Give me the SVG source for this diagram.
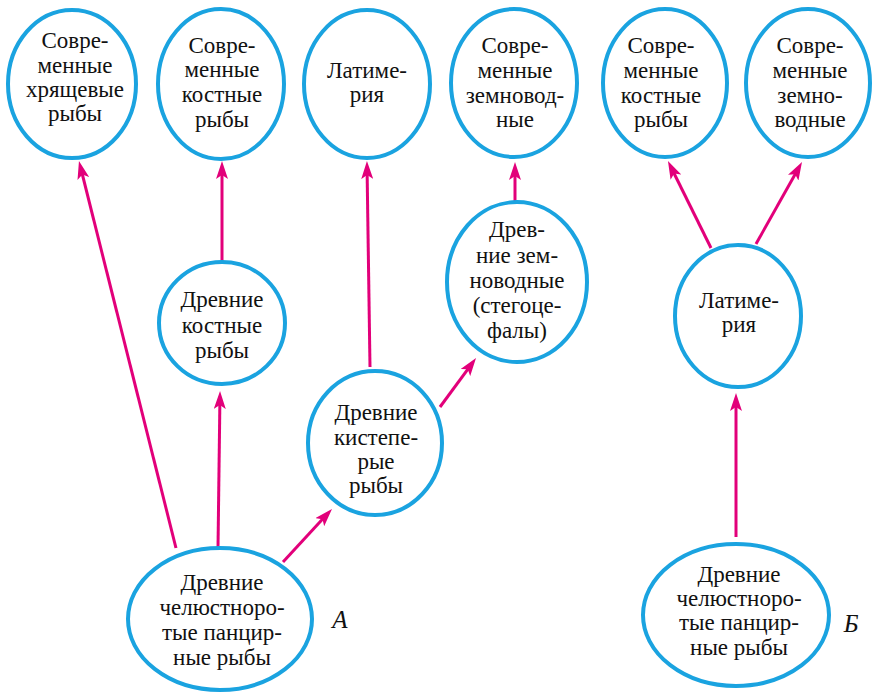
<svg xmlns="http://www.w3.org/2000/svg" width="875" height="692" viewBox="0 0 875 692">
<style>
.e{fill:#fff;stroke:#1AA3E0;stroke-width:4}
.c line{stroke:#E2007A;stroke-width:3;marker-end:url(#ah)}
.t text{font-family:'Liberation Serif','Times New Roman',serif;font-size:23px;fill:#111;text-anchor:middle}
.t text.lab{font-style:italic;font-size:25px}
</style>
<defs>
<marker id="ah" markerUnits="userSpaceOnUse" markerWidth="18" markerHeight="12" viewBox="0 0 18 12" refX="8" refY="6" orient="auto">
<path d="M0,0 L18,6 L0,12 L4,6 z" fill="#E2007A"/>
</marker>
</defs>
<g class="c" id="connectors">
<line x1="176" y1="548" x2="81.4" y2="170.7"/>
<line x1="218" y1="548" x2="219.9" y2="401"/>
<line x1="222" y1="261" x2="222" y2="171"/>
<line x1="370" y1="367" x2="367.1" y2="171"/>
<line x1="440" y1="407" x2="470.1" y2="366.1"/>
<line x1="515" y1="201" x2="515" y2="172"/>
<line x1="283" y1="562" x2="325.2" y2="516.3"/>
<line x1="711" y1="248" x2="672.4" y2="170"/>
<line x1="756" y1="244" x2="797.1" y2="170.7"/>
<line x1="736" y1="537" x2="736" y2="403"/>
</g>
<g class="t">
<g id="n1"><ellipse class="e" cx="72" cy="84" rx="64" ry="74"/><text x="75" y="48">Совре-</text><text x="75" y="73">менные</text><text x="75" y="97">хрящевые</text><text x="75" y="121">рыбы</text></g>
<g id="n2"><ellipse class="e" cx="221" cy="84" rx="63" ry="75"/><text x="222" y="53">Совре-</text><text x="222" y="77">менные</text><text x="222" y="102">костные</text><text x="222" y="127">рыбы</text></g>
<g id="n3"><ellipse class="e" cx="367" cy="84" rx="63" ry="74"/><text x="367" y="78">Латиме-</text><text x="367" y="102">рия</text></g>
<g id="n4"><ellipse class="e" cx="514" cy="83" rx="63" ry="74"/><text x="515" y="53">Совре-</text><text x="515" y="78">менные</text><text x="515" y="103">земновод-</text><text x="515" y="127">ные</text></g>
<g id="n5"><ellipse class="e" cx="665" cy="83" rx="62" ry="74"/><text x="661" y="53">Совре-</text><text x="661" y="78">менные</text><text x="661" y="103">костные</text><text x="661" y="127">рыбы</text></g>
<g id="n6"><ellipse class="e" cx="808" cy="83" rx="62" ry="74"/><text x="810" y="53">Совре-</text><text x="810" y="78">менные</text><text x="810" y="103">земно-</text><text x="810" y="127">водные</text></g>
<g id="n7"><ellipse class="e" cx="222" cy="323" rx="63" ry="61"/><text x="222" y="307">Древние</text><text x="222" y="333">костные</text><text x="222" y="358">рыбы</text></g>
<g id="n8"><ellipse class="e" cx="375" cy="443" rx="67" ry="72"/><text x="376" y="420">Древние</text><text x="376" y="445">кистепе-</text><text x="376" y="469">рые</text><text x="376" y="493">рыбы</text></g>
<g id="n9"><ellipse class="e" cx="517" cy="282" rx="70" ry="80"/><text x="517" y="237">Древ-</text><text x="517" y="263">ние зем-</text><text x="517" y="288">новодные</text><text x="517" y="313">(стегоце-</text><text x="517" y="338">фалы)</text></g>
<g id="n10"><ellipse class="e" cx="220" cy="619" rx="92" ry="71"/><text x="222" y="590">Древние</text><text x="222" y="615">челюстноро-</text><text x="222" y="640">тые панцир-</text><text x="222" y="665">ные рыбы</text></g>
<g id="n11"><ellipse class="e" cx="738" cy="316" rx="63" ry="71"/><text x="739" y="308">Латиме-</text><text x="739" y="332">рия</text></g>
<g id="n12"><ellipse class="e" cx="736" cy="615" rx="93" ry="71"/><text x="739" y="582">Древние</text><text x="739" y="606">челюстноро-</text><text x="739" y="630">тые панцир-</text><text x="739" y="655">ные рыбы</text></g>
<text class="lab" x="340" y="628">А</text>
<text class="lab" x="851" y="632">Б</text>
</g>
</svg>
